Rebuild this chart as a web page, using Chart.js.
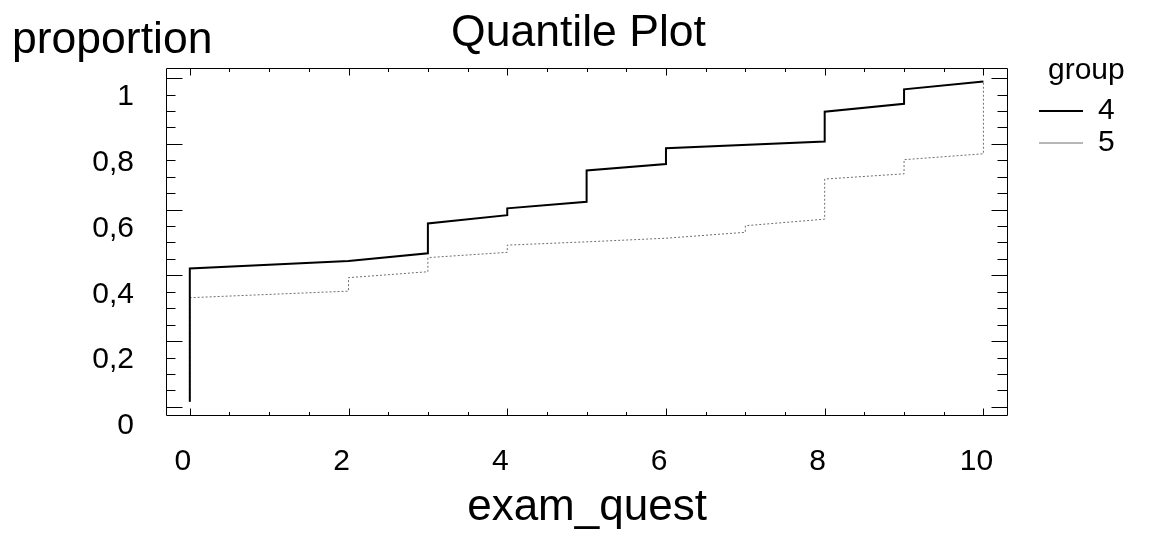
<!DOCTYPE html>
<html>
<head>
<meta charset="utf-8">
<script src="https://cdn.jsdelivr.net/npm/chart.js@4.4.1/dist/chart.umd.min.js"></script>
<style>
html,body{margin:0;padding:0;background:#fff;}
#wrap{width:1151px;height:534px;position:relative;}
canvas{display:block;}
</style>
</head>
<body>
<div id="wrap"><canvas id="c" width="1151" height="534"></canvas></div>
<script>
// ---- data ----
const seriesNames = ['4', '5'];
const group4X = [0, 0, 2, 3, 3, 4, 4, 5, 5, 6, 6, 8, 8, 9, 9, 10];
const group4P = [0.015, 0.421, 0.444, 0.467, 0.558, 0.583, 0.604, 0.624, 0.719, 0.739, 0.787, 0.807, 0.898, 0.922, 0.966, 0.990];
const group5X = [0, 0, 2, 2, 3, 3, 4, 4, 5, 6, 7, 7, 8, 8, 9, 9, 10, 10];
const group5P = [0.015, 0.332, 0.352, 0.393, 0.411, 0.454, 0.470, 0.492, 0.502, 0.513, 0.531, 0.551, 0.571, 0.693, 0.709, 0.752, 0.770, 0.990];
const xTickLabels = ['0', '2', '4', '6', '8', '10'];
const yTickLabels = ['0', '0,2', '0,4', '0,6', '0,8', '1'];
const chartTitle = 'Quantile Plot';
const xTitle = 'exam_quest';
const yTitle = 'proportion';
const legendTitle = 'group';

const FONT = '"Liberation Sans", Arial, Helvetica, sans-serif';
Chart.defaults.font.family = FONT;
Chart.defaults.color = '#000';

const toPoints = (xs, ps) => xs.map((x, i) => ({x: x, y: ps[i]}));

const frameAndTicks = {
  id: 'frameAndTicks',
  afterDatasetsDraw(chart) {
    const {ctx, chartArea: a, scales: {x, y}} = chart;
    const L = Math.round(a.left) + 0.5, R = Math.round(a.right) - 0.5;
    const T = Math.round(a.top) + 0.5, B = Math.round(a.bottom) - 0.5;
    ctx.save();
    ctx.strokeStyle = '#000';
    ctx.lineWidth = 1;
    ctx.setLineDash([]);
    ctx.beginPath();
    ctx.rect(L, T, R - L, B - T);
    ctx.stroke();
    ctx.beginPath();
    // y ticks: every 0.05, major every 0.2
    for (let i = 0; i <= 20; i++) {
      const py = Math.round(y.getPixelForValue(i * 0.05)) + 0.5;
      const major = i % 4 === 0;
      ctx.moveTo(L, py); ctx.lineTo(L + (major ? 16 : 9), py);
      ctx.moveTo(R, py); ctx.lineTo(R - (major ? 16 : 10), py);
    }
    // x ticks: every 0.5, major every 2
    for (let i = 0; i <= 20; i++) {
      const px = Math.round(x.getPixelForValue(i * 0.5)) + 0.5;
      const major = i % 4 === 0;
      ctx.moveTo(px, T); ctx.lineTo(px, T + (major ? 7 : 3.5));
      ctx.moveTo(px, B); ctx.lineTo(px, B - (major ? 7 : 3.5));
    }
    ctx.stroke();
    ctx.restore();
  },
  afterDraw(chart) {
    const ctx = chart.ctx;
    ctx.save();
    ctx.fillStyle = '#000';
    ctx.font = '44.5px ' + FONT;
    ctx.textAlign = 'left';
    ctx.textBaseline = 'alphabetic';
    ctx.fillText(yTitle, 12, 53);
    ctx.restore();
  }
};

const hiddenRight = (w, weight) => ({
  type: 'linear',
  position: 'right',
  weight: weight,
  display: true,
  grid: {display: false, drawTicks: false},
  border: {display: false},
  ticks: {display: false},
  afterFit(scale) { scale.width = w; }
});

new Chart(document.getElementById('c'), {
  type: 'line',
  data: {
    datasets: [
      {
        label: seriesNames[0],
        data: toPoints(group4X, group4P),
        borderColor: '#000',
        backgroundColor: '#000',
        borderWidth: 2,
        pointRadius: 0,
        tension: 0,
        fill: false
      },
      {
        label: seriesNames[1],
        data: toPoints(group5X, group5P),
        borderColor: '#6e6e6e',
        backgroundColor: '#6e6e6e',
        borderWidth: 1,
        borderDash: [2, 2],
        pointRadius: 0,
        tension: 0,
        fill: false
      }
    ]
  },
  options: {
    responsive: false,
    animation: false,
    events: [],
    layout: {padding: {left: 6, right: 0, top: 0, bottom: 0}},
    plugins: {
      tooltip: {enabled: false},
      title: {
        display: true,
        text: chartTitle,
        color: '#000',
        font: {size: 44.5, weight: 'normal', lineHeight: 1.2},
        padding: {top: 6.6, bottom: 8.0}
      },
      legend: {
        display: true,
        position: 'right',
        align: 'start',
        fullSize: true,
        title: {
          display: true,
          text: legendTitle,
          position: 'end',
          color: '#000',
          font: {size: 30, lineHeight: 1},
          padding: {top: 55.7, bottom: 8.3}
        },
        labels: {
          usePointStyle: true,
          pointStyle: 'line',
          pointStyleWidth: 44,
          color: '#000',
          font: {size: 30, lineHeight: 1},
          padding: 2
        }
      }
    },
    scales: {
      x: {
        type: 'linear',
        position: 'bottom',
        min: -0.30,
        max: 10.31,
        grid: {display: false, drawTicks: false},
        border: {display: false},
        ticks: {
          stepSize: 2,
          includeBounds: false,
          autoSkip: false,
          maxRotation: 0,
          padding: 27.7,
          labelOffset: -7,
          color: '#000',
          font: {size: 30, lineHeight: 1.2},
          callback: (v) => xTickLabels[Math.round(v / 2)]
        },
        title: {
          display: true,
          text: xTitle,
          color: '#000',
          font: {size: 44, lineHeight: 1.2},
          padding: {top: -26.2, bottom: 0}
        }
      },
      y: {
        type: 'linear',
        position: 'left',
        min: -0.028,
        max: 1.031,
        grid: {display: false, drawTicks: false},
        border: {display: false},
        ticks: {
          stepSize: 0.2,
          includeBounds: false,
          autoSkip: false,
          padding: 32,
          labelOffset: 19,
          color: '#000',
          font: {size: 30, lineHeight: 1.2},
          callback: (v) => yTickLabels[Math.round(v / 0.2)]
        },
        afterFit(scale) { scale.width = 160; }
      },
      gapR: hiddenRight(29, 0),
      edgeR: hiddenRight(26.3, 2000)
    }
  },
  plugins: [frameAndTicks]
});
</script>
</body>
</html>
